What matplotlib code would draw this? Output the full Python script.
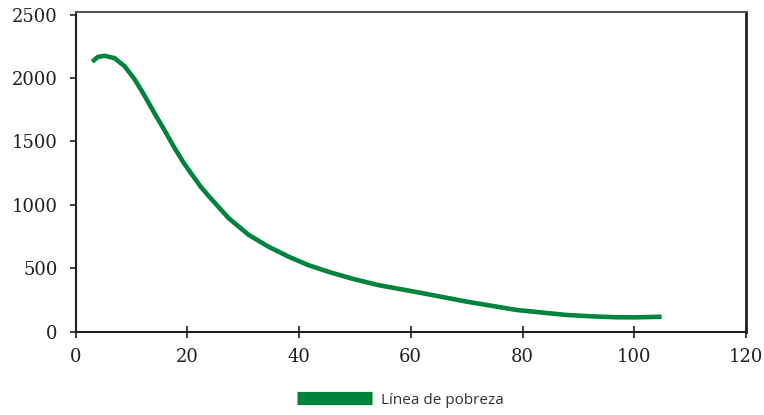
import numpy as np
import matplotlib
matplotlib.use("Agg")
import matplotlib.pyplot as plt
from matplotlib.lines import Line2D

# poverty line curve
x_vals = [3.0, 4.0, 5.2, 7.0, 8.8, 10.6, 12.3, 14.1, 15.9, 17.6, 19.4, 22.4,
          23.9, 27.4, 31.0, 34.5, 38.1, 41.6, 45.2, 49.5, 54.1, 61.2,
          70.0, 79.0, 87.8, 93.0, 96.7, 100.3, 104.9]
y_vals = [2128, 2166, 2175, 2156, 2092, 1988, 1865, 1725, 1590, 1458, 1328, 1143,
          1066, 895, 763, 671, 592, 526, 473, 418, 368, 311,
          237, 171, 132, 120, 114, 113, 118]

x_ticks = [0, 20, 40, 60, 80, 100, 120]
y_ticks = [0, 500, 1000, 1500, 2000, 2500]
series_label = "Línea de pobreza"

green = "#00843d"
dark = "#231f20"

fig = plt.figure(figsize=(7.64, 4.15), dpi=100)
ax = fig.add_axes([75.5 / 764, 1 - 331.7 / 415, (746 - 75.5) / 764, (331.7 - 12) / 415])

ax.plot(x_vals, y_vals, color=green, linewidth=3.3,
        solid_capstyle="butt", solid_joinstyle="round")

ax.set_xlim(0, 120)
ax.set_ylim(0, 2520)
ax.set_xticks(x_ticks)
ax.set_yticks(y_ticks)

serif = {"family": "DejaVu Serif", "size": 13}
ax.set_xticklabels([str(t) for t in x_ticks], fontdict=serif, color=dark)
ax.set_yticklabels([str(t) for t in y_ticks], fontdict=serif, color=dark)

ax.tick_params(axis="x", direction="inout", length=8, width=1.2, color=dark, pad=8)
ax.tick_params(axis="y", direction="out", length=4, width=1.2, color=dark, pad=9)

for side in ["left", "bottom"]:
    ax.spines[side].set_color(dark)
    ax.spines[side].set_linewidth(1.5)
ax.spines["right"].set_color(dark)
ax.spines["right"].set_linewidth(2.0)
ax.spines["top"].set_color("#555555")
ax.spines["top"].set_linewidth(1.5)

handle = Line2D([0], [0], color=green, linewidth=9.5, solid_capstyle="butt")
fig.legend([handle], [series_label], loc="center", bbox_to_anchor=(0.524, 0.036),
           frameon=False, handlelength=4.9, handletextpad=0.6,
           prop={"family": "Open Sans", "size": 11}, labelcolor="#333333")

fig.savefig("out.png", dpi=100, facecolor="white")
